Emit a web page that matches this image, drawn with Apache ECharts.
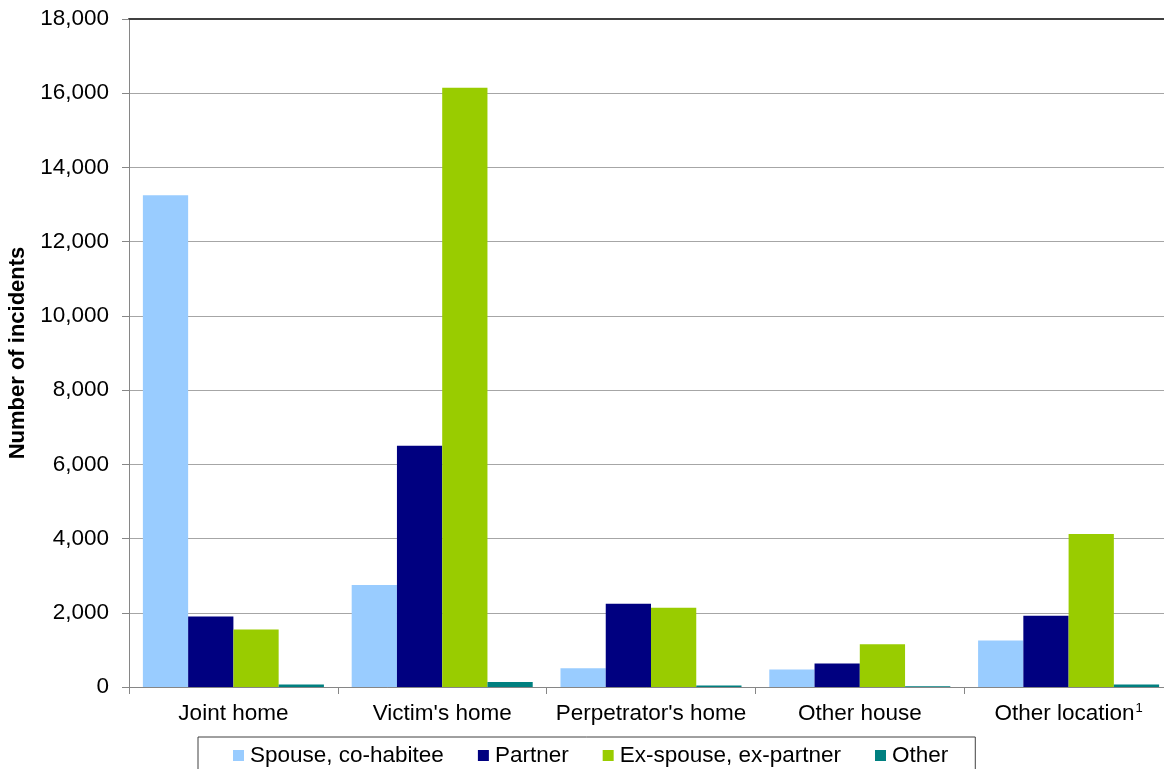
<!DOCTYPE html>
<html>
<head>
<meta charset="utf-8">
<title>Incidents by location and relationship</title>
<script src="https://cdn.jsdelivr.net/npm/echarts@6/dist/echarts.min.js"></script>
<style>
  html, body { margin: 0; padding: 0; background: #ffffff; }
  #chart { width: 1164px; height: 769px; }
</style>
</head>
<body>
<div id="chart"></div>
<script>
// Locations (categories); the last one carries footnote 1
const categories = ['Joint home', "Victim's home", "Perpetrator's home", 'Other house', 'Other location'];
const footnoteIndex = 4;

// Number of incidents per relationship of perpetrator to victim
const spouseCohabitee = [13250, 2750, 505, 470, 1255];
const partner = [1900, 6500, 2245, 630, 1920];
const exSpouseExPartner = [1550, 16150, 2135, 1150, 4125];
const otherRelation = [65, 135, 40, 20, 65];

const seriesNames = ['Spouse, co-habitee', 'Partner', 'Ex-spouse, ex-partner', 'Other'];
const seriesColors = ['#99ccff', '#000080', '#99cc00', '#008080'];

const FONT = '"Liberation Sans", Arial, sans-serif';

const chart = echarts.init(document.getElementById('chart'), null, { renderer: 'canvas' });

function bar(name, data, color) {
  return {
    name: name,
    type: 'bar',
    data: data,
    barGap: '0%',
    barCategoryGap: '13.3%',
    itemStyle: { color: color },
    emphasis: { disabled: true }
  };
}

chart.setOption({
  animation: false,
  backgroundColor: '#ffffff',
  textStyle: { fontFamily: FONT, color: '#000000' },
  // the plot runs a little past the right edge of the canvas
  grid: { left: 129, top: 19, width: 1044, height: 668, containLabel: false, outerBoundsMode: 'none' },
  legend: {
    left: 198,
    top: 737,
    orient: 'horizontal',
    itemWidth: 11,
    itemHeight: 11,
    itemGap: 34,
    padding: [7, 27, 12, 35],
    borderColor: '#404040',
    borderWidth: 1,
    icon: 'rect',
    textStyle: { fontFamily: FONT, fontSize: 22.5, color: '#000000', padding: [0, 0, 0, 1] },
    data: seriesNames
  },
  xAxis: [
    {
      type: 'category',
      data: categories,
      position: 'bottom',
      axisLine: { lineStyle: { color: '#868686', width: 1 } },
      axisTick: { show: true, length: 7, lineStyle: { color: '#868686' } },
      axisLabel: {
        fontFamily: FONT,
        fontSize: 22.5,
        color: '#000000',
        margin: 15,
        interval: 0,
        formatter: function (value, idx) {
          return idx === footnoteIndex ? value + '{sup|1}' : value;
        },
        rich: {
          sup: { fontFamily: FONT, fontSize: 13, color: '#000000', verticalAlign: 'top', padding: [0, 0, 10, 1] }
        }
      },
      splitLine: { show: false }
    },
    {
      type: 'category',
      data: categories,
      position: 'top',
      axisLine: { lineStyle: { color: '#404040', width: 2 } },
      axisTick: { show: false },
      axisLabel: { show: false },
      splitLine: { show: false }
    }
  ],
  yAxis: {
    type: 'value',
    min: 0,
    max: 18000,
    interval: 2000,
    name: 'Number of incidents',
    nameLocation: 'middle',
    nameRotate: 90,
    nameGap: 100,
    nameTextStyle: { fontFamily: FONT, fontSize: 22, fontWeight: 'bold', color: '#000000' },
    axisLine: { show: true, lineStyle: { color: '#868686', width: 1 } },
    axisTick: { show: true, length: 7, lineStyle: { color: '#868686' } },
    axisLabel: {
      fontFamily: FONT,
      fontSize: 22.5,
      color: '#000000',
      margin: 20,
      formatter: function (v) { return v.toLocaleString('en-US'); }
    },
    splitLine: { show: true, lineStyle: { color: '#a6a6a6', width: 1 } }
  },
  series: [
    bar(seriesNames[0], spouseCohabitee, seriesColors[0]),
    bar(seriesNames[1], partner, seriesColors[1]),
    bar(seriesNames[2], exSpouseExPartner, seriesColors[2]),
    bar(seriesNames[3], otherRelation, seriesColors[3])
  ]
});
</script>
</body>
</html>
